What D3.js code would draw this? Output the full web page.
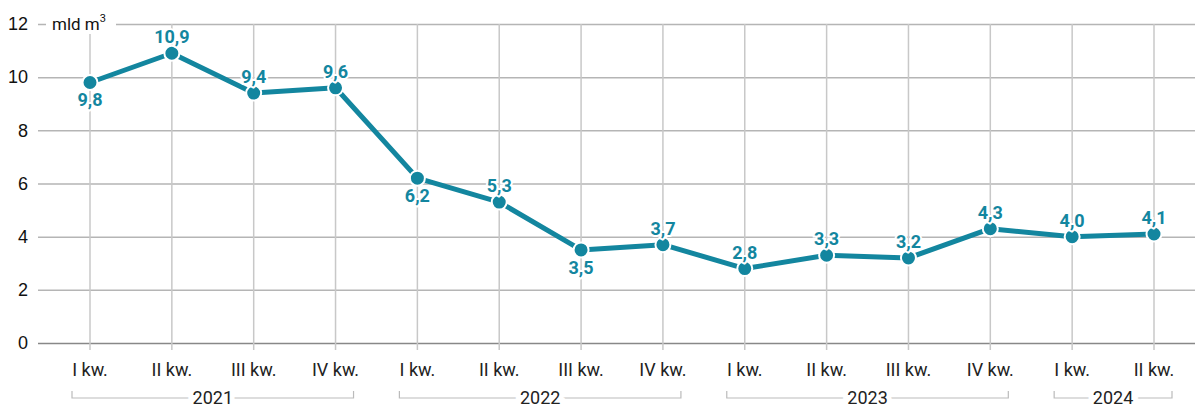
<!DOCTYPE html>
<html>
<head>
<meta charset="utf-8">
<script src="https://cdn.jsdelivr.net/npm/d3@7"></script>
<style>
  body { margin: 0; background: #fff; }
  svg { font-family: Roboto, "Noto Sans", sans-serif; display: block; }
</style>
</head>
<body>
<div class="chart"></div>
<script>
// data
var quarters = ["I kw.", "II kw.", "III kw.", "IV kw.", "I kw.", "II kw.", "III kw.", "IV kw.",
                "I kw.", "II kw.", "III kw.", "IV kw.", "I kw.", "II kw."];
var years = ["2021", "2021", "2021", "2021", "2022", "2022", "2022", "2022",
             "2023", "2023", "2023", "2023", "2024", "2024"];
var values = [9.8, 10.9, 9.4, 9.6, 6.2, 5.3, 3.5, 3.7, 2.8, 3.3, 3.2, 4.3, 4.0, 4.1];
var labelBelow = [true, false, false, false, true, false, true, false, false, false, false, false, false, false];
var yTicks = [0, 2, 4, 6, 8, 10, 12];

var width = 1195, height = 404;
var margin = {top: 24, right: 0, bottom: 61, left: 38};
var teal = "#13869f";

var svg = d3.select(".chart").append("svg")
    .attr("width", width)
    .attr("height", height);

// scales
var idx = d3.range(values.length);
var x = d3.scalePoint().domain(idx).range([90, 1154]);
var y = d3.scaleLinear().domain([0, 12]).range([height - margin.bottom, margin.top]);

// horizontal grid + y labels
var yAxis = svg.append("g")
    .attr("transform", "translate(" + margin.left + ",0)")
    .call(d3.axisLeft(y).tickValues(yTicks).tickSize(-(width - margin.left)).tickPadding(10));
yAxis.select(".domain").remove();
yAxis.selectAll(".tick line")
    .attr("stroke", d => d === 0 ? "#888" : "#b5b5b5")
    .attr("stroke-width", 1.5);
yAxis.selectAll(".tick text")
    .attr("fill", "#111")
    .style("font-size", "18px");

// vertical grid
svg.append("g")
    .selectAll("line")
    .data(idx)
    .enter()
    .append("line")
    .attr("x1", d => x(d))
    .attr("x2", d => x(d))
    .attr("y1", y(12))
    .attr("y2", y(0) + 7)
    .attr("stroke", "#c8c8c8")
    .attr("stroke-width", 1.5);

// unit label with white box
svg.append("rect")
    .attr("x", 46)
    .attr("y", 10)
    .attr("width", 70)
    .attr("height", 24)
    .attr("fill", "#fff");
var unit = svg.append("text")
    .attr("x", 52)
    .attr("y", y(12) + 6)
    .attr("fill", "#111")
    .style("font-size", "17px")
    .text("mld m");
unit.append("tspan")
    .attr("dy", -8)
    .style("font-size", "11px")
    .text("3");

// quarter labels
svg.append("g")
    .selectAll("text")
    .data(idx)
    .enter()
    .append("text")
    .attr("x", d => x(d))
    .attr("y", y(0) + 33)
    .attr("text-anchor", "middle")
    .attr("fill", "#222")
    .style("font-size", "18px")
    .text(d => quarters[d]);

// year brackets
var yearGroups = d3.groups(idx, d => years[d]);
var by = height - 6;
var brackets = svg.append("g")
    .selectAll("g")
    .data(yearGroups)
    .enter()
    .append("g");

brackets.append("path")
    .attr("d", function(g) {
        var x0 = x(g[1][0]) - 18, x1 = x(g[1][g[1].length - 1]) + 18;
        return "M" + x0 + "," + (by - 7) + "V" + by + "H" + x1 + "V" + (by - 7);
    })
    .attr("fill", "none")
    .attr("stroke", "#bbb")
    .attr("stroke-width", 1.2);

brackets.append("text")
    .attr("x", g => (x(g[1][0]) + x(g[1][g[1].length - 1])) / 2)
    .attr("y", by + 6)
    .attr("text-anchor", "middle")
    .attr("fill", "#222")
    .attr("stroke", "#fff")
    .attr("stroke-width", 10)
    .attr("paint-order", "stroke")
    .style("font-size", "18px")
    .text(g => g[0]);

// line
var line = d3.line()
    .x(d => x(d))
    .y(d => y(values[d]));

svg.append("path")
    .datum(idx)
    .attr("d", line)
    .attr("fill", "none")
    .attr("stroke", teal)
    .attr("stroke-width", 5)
    .attr("stroke-linejoin", "round");

// points
svg.append("g")
    .selectAll("circle")
    .data(idx)
    .enter()
    .append("circle")
    .attr("cx", d => x(d))
    .attr("cy", d => y(values[d]))
    .attr("r", 7.5)
    .attr("fill", teal)
    .attr("stroke", "#fff")
    .attr("stroke-width", 2);

// value labels
var fmt = d3.format(".1f");
svg.append("g")
    .selectAll("text")
    .data(idx)
    .enter()
    .append("text")
    .attr("x", d => x(d))
    .attr("y", d => y(values[d]) + (labelBelow[d] ? 24 : -10))
    .attr("text-anchor", "middle")
    .attr("fill", teal)
    .attr("stroke", "#fff")
    .attr("stroke-width", 4)
    .attr("paint-order", "stroke")
    .style("font-size", "18px")
    .style("font-weight", "bold")
    .text(d => fmt(values[d]).replace(".", ","));
</script>
</body>
</html>
